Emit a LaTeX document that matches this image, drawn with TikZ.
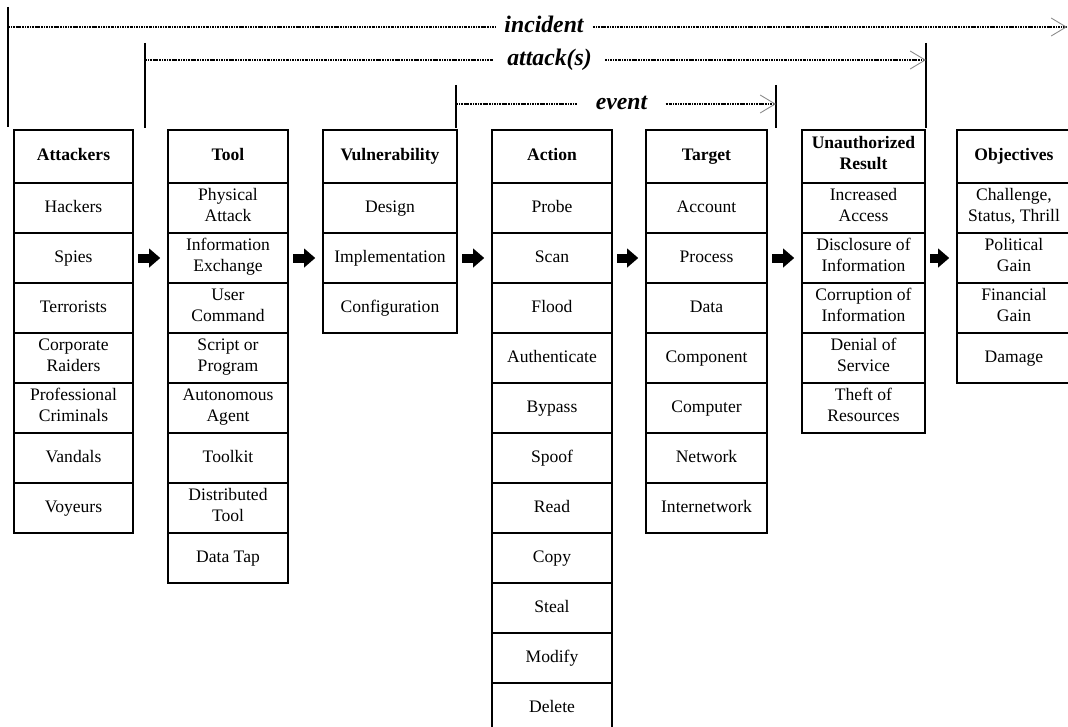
\documentclass[tikz,border=0pt]{standalone}
\usepackage{fontspec}
\setmainfont{Liberation Serif}
\usetikzlibrary{arrows.meta}
\definecolor{ink}{HTML}{000000}
\definecolor{barb}{HTML}{8C8C8C}

\begin{document}
\begin{tikzpicture}[
  x=0.2mm, y=-0.2mm,
  font=\fontsize{10}{12}\selectfont,
  cell/.style  = {draw=ink, line width=0.9pt, align=center, inner sep=1pt,
                  minimum height=10mm, text=ink,
                  execute at begin node=\strut, execute at end node=\strut},
  head/.style  = {cell, minimum height=10.6mm,
                  font=\fontsize{10}{12}\selectfont\bfseries},
  span/.style  = {font=\fontsize{13.5}{15}\selectfont\bfseries\itshape, text=ink,
                  text height=1.6ex, text depth=0.3ex, inner ysep=0pt},
  reach/.style = {draw=ink, line width=0.95pt,
                  dash pattern=on 1.2pt off 0.5pt on 0.5pt off 0.5pt},
  far/.style   = {reach, -{Straight Barb[length=3mm, width=3.6mm, color=barb, line width=0.5pt]}},
  tick/.style  = {draw=ink, line width=0.7pt},
  push/.style  = {draw=ink, line width=1.8mm, shorten <=0.9mm, shorten >=1.4mm,
                  -{Triangle[length=2.2mm, width=3.8mm, line width=0pt]}},
]
\clip (0,0) rectangle (1068,727);

% ---- incident (outermost span) ----------------------------------------
\coordinate (incTop)  at (8,7);
\coordinate (incFoot) at (8,127);
\coordinate (incL)    at (8,27);
\coordinate (incR)    at (1067,27);
\node[span, inner xsep=1.8mm] at (544,27) (inc) {incident};
\draw[tick] (incTop) -- (incFoot);
\draw[reach] (incL) -- (inc.west);
\draw[far] (inc.east) -- (incR);

% ---- attack(s) ----------------------------------------------------------
\coordinate (atkTop)  at (145,43);
\coordinate (atkFoot) at (145,128);
\coordinate (atkL)    at (145,60);
\coordinate (atkR)    at (926,60);
\coordinate (atkEndT) at (926,43);
\coordinate (atkEndB) at (926,128);
\node[span, inner xsep=2.6mm] at (549.5,60) (atk) {attack(s)};
\draw[tick] (atkTop) -- (atkFoot);
\draw[tick] (atkEndT) -- (atkEndB);
\draw[reach] (atkL) -- (atk.west);
\draw[far] (atk.east) -- (atkR);

% ---- event --------------------------------------------------------------
\coordinate (evtTop)  at (456,85);
\coordinate (evtFoot) at (456,128);
\coordinate (evtL)    at (456,104);
\coordinate (evtR)    at (776,104);
\coordinate (evtEndT) at (776,85);
\coordinate (evtEndB) at (776,128);
\node[span, inner xsep=3.6mm] at (621.5,104) (evt) {event};
\draw[tick] (evtTop) -- (evtFoot);
\draw[tick] (evtEndT) -- (evtEndB);
\draw[reach] (evtL) -- (evt.west);
\draw[far] (evt.east) -- (evtR);

% ---- columns (header y = 130..183, rows of 50 below) ---------------------
\node[head, minimum width=23.8mm] at (73.5,156.5) (att0) {Attackers};
\foreach \t [count=\i] in {Hackers, Spies, Terrorists, {Corporate\\Raiders},
    {Professional\\Criminals}, Vandals, Voyeurs}
  \node[cell, minimum width=23.8mm] at (73.5,158+50*\i) (att\i) {\t};

\node[head, minimum width=24mm] at (228,156.5) (tool0) {Tool};
\foreach \t [count=\i] in {{Physical\\Attack}, {Information\\Exchange},
    {User\\Command}, {Script or\\Program}, {Autonomous\\Agent}, Toolkit,
    {Distributed\\Tool}, Data Tap}
  \node[cell, minimum width=24mm] at (228,158+50*\i) (tool\i) {\t};

\node[head, minimum width=26.8mm] at (390,156.5) (vul0) {Vulnerability};
\foreach \t [count=\i] in {Design, Implementation, Configuration}
  \node[cell, minimum width=26.8mm] at (390,158+50*\i) (vul\i) {\t};

\node[head, minimum width=24mm] at (552,156.5) (act0) {Action};
\foreach \t [count=\i] in {Probe, Scan, Flood, Authenticate, Bypass, Spoof,
    Read, Copy, Steal, Modify, Delete}
  \node[cell, minimum width=24mm] at (552,158+50*\i) (act\i) {\t};

\node[head, minimum width=24.2mm] at (706.5,156.5) (tgt0) {Target};
\foreach \t [count=\i] in {Account, Process, Data, Component, Computer,
    Network, Internetwork}
  \node[cell, minimum width=24.2mm] at (706.5,158+50*\i) (tgt\i) {\t};

\node[head, minimum width=24.6mm] at (863.5,156.5) (res0) {Unauthorized\\Result};
\foreach \t [count=\i] in {{Increased\\Access}, {Disclosure of\\Information},
    {Corruption of\\Information}, {Denial of\\Service}, {Theft of\\Resources}}
  \node[cell, minimum width=24.6mm] at (863.5,158+50*\i) (res\i) {\t};

\node[head, minimum width=22.8mm] at (1014,156.5) (obj0) {Objectives};
\foreach \t [count=\i] in {{Challenge,\\Status, Thrill}, {Political\\Gain},
    {Financial\\Gain}, Damage}
  \node[cell, minimum width=22.8mm] at (1014,158+50*\i) (obj\i) {\t};

% ---- block arrows between columns ---------------------------------------
\foreach \a/\b in {att/tool, tool/vul, vul/act, act/tgt, tgt/res, res/obj}
  \draw[push] (\a2.east) -- (\b2.west);

\end{tikzpicture}
\end{document}
